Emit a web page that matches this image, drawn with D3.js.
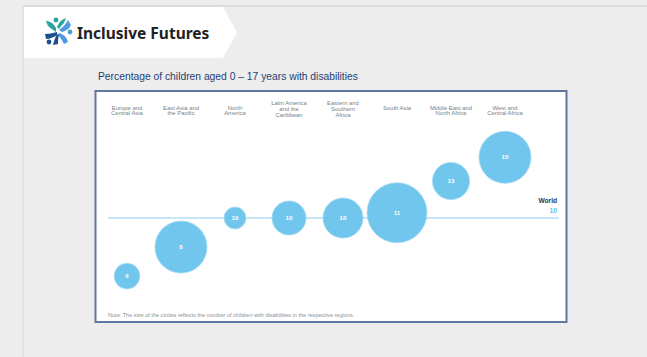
<!DOCTYPE html>
<html><head><meta charset="utf-8">
<script src="https://cdn.jsdelivr.net/npm/d3@7"></script>
<style>
html,body{margin:0;padding:0;background:#ededed;overflow:hidden;}
svg{display:block;font-family:"Liberation Sans",Arial,sans-serif;}
</style></head>
<body>
<svg id="c" width="647" height="357"></svg>
<script>
// ---- data ----
const categories = [
  ["Europe and","Central Asia"],
  ["East Asia and","the Pacific"],
  ["North","America"],
  ["Latin America","and the","Caribbean"],
  ["Eastern and","Southern","Africa"],
  ["South Asia"],
  ["Middle East and","North Africa"],
  ["West and","Central Africa"]
];
const percentLabels = [6, 8, 10, 10, 10, 11, 13, 15];          // printed values (%)
const plottedPercent = [5.6, 7.8, 10, 10, 10, 10.4, 12.8, 14.6]; // vertical position
const childrenMillions = [12, 49, 8.7, 21, 29, 65, 25, 49];      // circle size (estimated)
const worldValue = 10;
const chartTitle = "Percentage of children aged 0 \u2013 17 years with disabilities";
const noteText = "Note: The size of the circles reflects the number of children with disabilities in the respective regions.";

const svg = d3.select("#c");

// slide frame
svg.append("line").attr("x1",23).attr("x2",647).attr("y1",6).attr("y2",6).attr("stroke","#dcdcdc").attr("stroke-width",2);
svg.append("line").attr("x1",23).attr("x2",23).attr("y1",6).attr("y2",357).attr("stroke","#dcdcdc").attr("stroke-width",1.5);
svg.append("path").attr("d","M24,7 L223,7 L237,32.5 L223,58 L24,58 Z").attr("fill","#ffffff");

// logo
const logo = svg.append("g").attr("transform","translate(58,31)");
logo.append("path").attr("d","M-2,-3 C-5,-8 -8,-10 -12,-10 L-10,-5 C-8,-3 -5,-1 -2,1 Z").attr("fill","#2aa59f");
logo.append("path").attr("d","M-1,-4 C1,-9 4,-12 8,-13 L6,-8 C4,-6 2,-4 1,-2 Z").attr("fill","#2aa59f");
logo.append("circle").attr("cx",-2).attr("cy",-11).attr("r",2.4).attr("fill","#2aa59f");
logo.append("path").attr("d","M1,-1 C5,-4 8,-7 10,-11 L13,-6 C11,-2 8,0 4,1 Z").attr("fill","#4f9be0");
logo.append("path").attr("d","M1,2 C5,3 9,6 10,11 L6,13 C4,9 2,6 0,4 Z").attr("fill","#4f9be0");
logo.append("circle").attr("cx",12).attr("cy",1).attr("r",2.4).attr("fill","#4f9be0");
logo.append("path").attr("d","M-1,1 C-5,2 -9,3 -13,3 L-12,8 C-8,8 -4,6 -1,4 Z").attr("fill","#1d4f8c");
logo.append("path").attr("d","M-1,3 C-3,7 -4,10 -5,14 L0,13 C0,10 0,7 1,4 Z").attr("fill","#1d4f8c");
logo.append("circle").attr("cx",-9).attr("cy",11).attr("r",2.4).attr("fill","#1d4f8c");

svg.append("text").attr("x",77).attr("y",38.5)
  .attr("font-family","'Noto Sans','Open Sans',sans-serif").attr("font-weight",700).attr("font-size",15.5)
  .attr("fill","#222").text("Inclusive Futures");

// title
svg.append("text").attr("x",98).attr("y",79.5).attr("font-size",10.3).attr("fill","#1f3f73").text(chartTitle);

// chart box
svg.append("rect").attr("x",95.5).attr("y",91).attr("width",471).attr("height",231)
  .attr("fill","#fff").attr("stroke","#62779f").attr("stroke-width",2);

// scales
const x = d3.scalePoint().domain(d3.range(categories.length)).range([127,505]);
const y = d3.scaleLinear().domain([5,16]).range([284,138.8]);
const r = d3.scaleSqrt().domain([0, d3.max(childrenMillions)]).range([0,30]);

// category labels
const lab = svg.append("g").attr("font-size",5.9).attr("fill","#7a7f88").attr("text-anchor","middle");
categories.forEach((lines,i)=>{
  const y0 = lines.length===3 ? 105 : 109.5;
  const t = lab.append("text").attr("x",x(i)).attr("y",y0);
  lines.forEach((l,j)=>t.append("tspan").attr("x",x(i)).attr("y",y0+j*5.8).text(l));
});

// world line
svg.append("line").attr("x1",108).attr("x2",559).attr("y1",y(worldValue)).attr("y2",y(worldValue))
  .attr("stroke","#b5def4").attr("stroke-width",1.6);
svg.append("text").attr("x",557).attr("y",y(worldValue)-15).attr("text-anchor","end")
  .attr("font-size",6.6).attr("font-weight",700).attr("fill","#2b3556").text("World");
svg.append("text").attr("x",557).attr("y",y(worldValue)-5).attr("text-anchor","end")
  .attr("font-size",6.8).attr("font-weight",700).attr("fill","#63bce9").text(worldValue);

// bubbles
const g = svg.append("g");
const nodes = g.selectAll("g.b").data(percentLabels.map((v,i)=>({i,v}))).join("g").attr("class","b")
  .attr("transform",d=>`translate(${x(d.i)},${y(plottedPercent[d.i])})`);
nodes.append("circle").attr("r",d=>r(childrenMillions[d.i])).attr("fill","#6cc4ec")
  .attr("stroke","#a9dcf4").attr("stroke-width",0.8).attr("fill-opacity",0.97);
nodes.append("text").attr("text-anchor","middle").attr("dy","0.35em").attr("font-size",6.2)
  .attr("font-weight",700).attr("fill","#ffffff").text(d=>d.v);

// note
svg.append("text").attr("x",108).attr("y",316.5).attr("font-size",5.55).attr("fill","#8a8f98").text(noteText);
</script>
</body></html>
